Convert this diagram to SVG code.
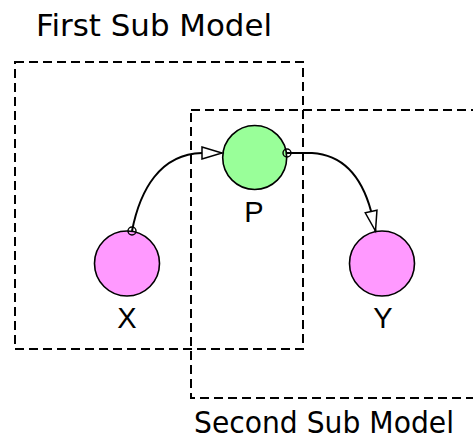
<svg xmlns="http://www.w3.org/2000/svg" width="473" height="442" viewBox="0 0 473 442">
<defs>
<style>
.box{fill:none;stroke:#000;stroke-width:2;stroke-dasharray:9,5}
.node{stroke:#000;stroke-width:1.6}
.lbl{font-family:"Liberation Sans",Arial,sans-serif;font-size:29px;fill:#000;text-anchor:middle}
.title{font-family:"DejaVu Sans","Liberation Sans",sans-serif;font-size:30px;fill:#000}
.edge{fill:none;stroke:#000;stroke-width:2}
.port{fill:none;stroke:#000;stroke-width:1.4}
</style>
<marker id="arrow" markerWidth="24" markerHeight="16" refX="21" refY="8" orient="auto" markerUnits="userSpaceOnUse" overflow="visible">
<path d="M1,2 L21,8 L1,14 Z" fill="#fff" stroke="#000" stroke-width="1.5"/>
</marker>
</defs>
<g id="submodel1">
<rect class="box" x="15" y="62" width="288" height="287"/>
<text class="title" x="36" y="36" textLength="236" lengthAdjust="spacingAndGlyphs">First Sub Model</text>
</g>
<g id="submodel2">
<rect class="box" x="191" y="110" width="285" height="288"/>
<text class="title" x="194" y="433" textLength="260" lengthAdjust="spacingAndGlyphs">Second Sub Model</text>
</g>
<g id="X">
<circle class="node" cx="127" cy="263.5" r="32.5" fill="#ff99ff"/>
<text class="lbl" x="127" y="328">X</text>
</g>
<g id="P">
<circle class="node" cx="254.7" cy="157.5" r="32" fill="#99ff99"/>
<text class="lbl" x="254" y="222">P</text>
</g>
<g id="Y">
<circle class="node" cx="382" cy="263.5" r="32.5" fill="#ff99ff"/>
<text class="lbl" x="383" y="328">Y</text>
</g>
<g id="connectors">
<path class="edge" d="M132,231 C140,190 160,154 202,153 L222,153" marker-end="url(#arrow)"/>
<circle class="port" cx="132" cy="231" r="4"/>
<path class="edge" d="M287,153 L312,153 C345,155 362,178 371,211 L375.5,231" marker-end="url(#arrow)"/>
<circle class="port" cx="287" cy="153" r="4"/>
</g>
</svg>
